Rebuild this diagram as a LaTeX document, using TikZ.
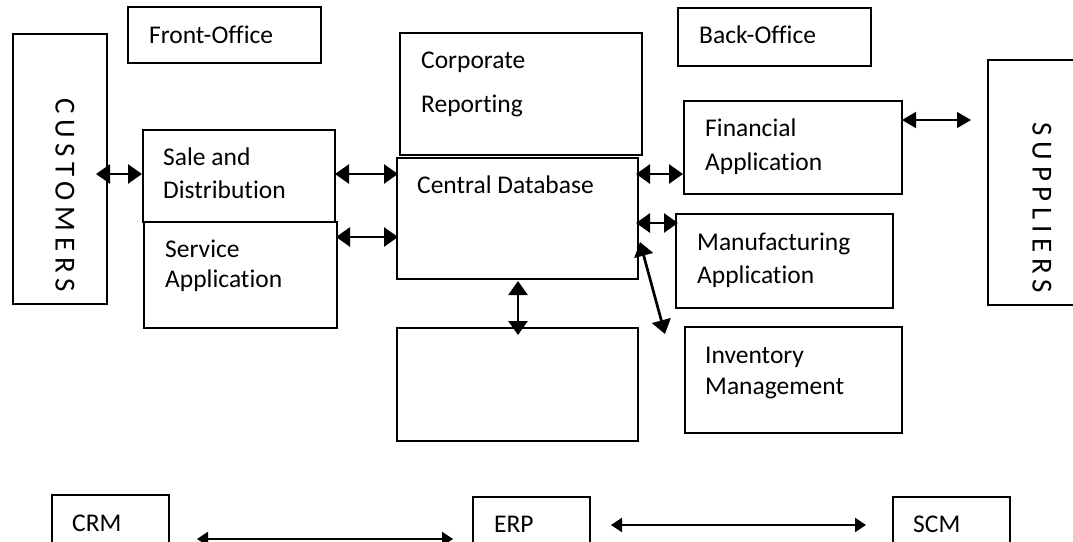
\documentclass[tikz,border=0pt]{standalone}
\usepackage{fontspec}
\setmainfont{Carlito}[Ligatures=NoCommon]
\newfontfamily\spaced[LetterSpace=20,Ligatures=NoCommon]{Carlito}
\usetikzlibrary{arrows.meta}
\tikzset{
  box/.style={draw, line width=1.5pt, inner sep=0pt, outer sep=0pt},
  lbl/.style={anchor=base west, inner sep=0pt, font=\fontsize{25.5}{30}\selectfont},
  dbl/.style={{Triangle[length=14pt,width=19pt]}-{Triangle[length=14pt,width=19pt]}, line width=2.7pt},
  thindbl/.style={{Triangle[length=14pt,width=16pt]}-{Triangle[length=14pt,width=16pt]}, line width=1.3pt},
  botdbl/.style={{Triangle[length=11pt,width=14pt]}-{Triangle[length=11pt,width=14pt]}, line width=2.3pt},
  vert/.style={font=\fontsize{29}{30}\selectfont\spaced, rotate=-90, inner sep=0pt}
}
\newcommand{\bx}[5]{\node[box, minimum width=#4pt-#2pt, minimum height=#5pt-#3pt, anchor=north west] (#1) at (#2,#3) {};}
\begin{document}
\begin{tikzpicture}[x=1pt,y=-1pt]
\useasboundingbox (0,0) rectangle (1073,541);
\clip (0,0) rectangle (1073,541);
\fill[white] (0,0) rectangle (1073,541);
% boxes
\bx{front}{128}{7}{321}{63}
\bx{cust}{13}{34}{107}{304}
\bx{sale}{143}{130}{335}{222}
\bx{serv}{144}{222}{337}{328}
\bx{corp}{400}{33}{642}{155}
\bx{cdb}{397}{158}{638}{279}
\bx{blank}{397}{328}{638}{441}
\bx{back}{678}{8}{871}{66}
\bx{fin}{684}{101}{902}{194}
\bx{manu}{676}{214}{893}{308}
\bx{inv}{685}{327}{902}{433}
\bx{supp}{988}{60}{1090}{305}
\bx{crm}{52}{495}{169}{570}
\bx{erp}{473}{497}{590}{570}
\bx{scm}{893}{497}{1010}{570}
% labels
\node[lbl] (tfront) at (149,43) {Front-Office};
\node[vert] (tcust) at (65,195) {CUSTOMERS};
\node[lbl] (tsale1) at (163,165) {Sale and};
\node[lbl] (tsale2) at (163,198) {Distribution};
\node[lbl] (tserv1) at (165,257) {Service};
\node[lbl] (tserv2) at (165,287) {Application};
\node[lbl] (tcorp1) at (421,68) {Corporate};
\node[lbl] (tcorp2) at (421,112) {Reporting};
\node[lbl] (tcdb) at (417,193) {Central Database};
\node[lbl] (tback) at (699,43) {Back-Office};
\node[lbl] (tfin1) at (705,136) {Financial};
\node[lbl] (tfin2) at (705,170) {Application};
\node[lbl] (tmanu1) at (697,250) {Manufacturing};
\node[lbl] (tmanu2) at (697,283) {Application};
\node[lbl] (tinv1) at (705,363) {Inventory};
\node[lbl] (tinv2) at (705,394) {Management};
\node[vert] (tsupp) at (1042,208) {SUPPLIERS};
\node[lbl] (tcrm) at (72,531) {CRM};
\node[lbl] (terp) at (494,532) {ERP};
\node[lbl] (tscm) at (913,532) {SCM};
% connector end points
\coordinate (c1a) at (96,174);  \coordinate (c1b) at (142,174);
\coordinate (c2a) at (335,174); \coordinate (c2b) at (398,174);
\coordinate (c3a) at (336,237); \coordinate (c3b) at (398,237);
\coordinate (c4a) at (636,174); \coordinate (c4b) at (683,174);
\coordinate (c5a) at (636,223); \coordinate (c5b) at (678,223);
\coordinate (c6a) at (640,242); \coordinate (c6b) at (665,334);
\coordinate (c7a) at (518,281); \coordinate (c7b) at (518,335);
\coordinate (c8a) at (902,120); \coordinate (c8b) at (971,120);
\coordinate (c9a) at (197,539); \coordinate (c9b) at (453,539);
\coordinate (c10a) at (611,525); \coordinate (c10b) at (866,525);
% connectors
\draw[dbl] (c1a) -- (c1b);
\draw[dbl] (c2a) -- (c2b);
\draw[dbl] (c3a) -- (c3b);
\draw[dbl] (c4a) -- (c4b);
\draw[dbl] (c5a) -- (c5b);
\draw[dbl] (c6a) -- (c6b);
\draw[dbl] (c7a) -- (c7b);
\draw[thindbl] (c8a) -- (c8b);
\draw[botdbl] (c9a) -- (c9b);
\draw[botdbl] (c10a) -- (c10b);
\end{tikzpicture}
\end{document}
